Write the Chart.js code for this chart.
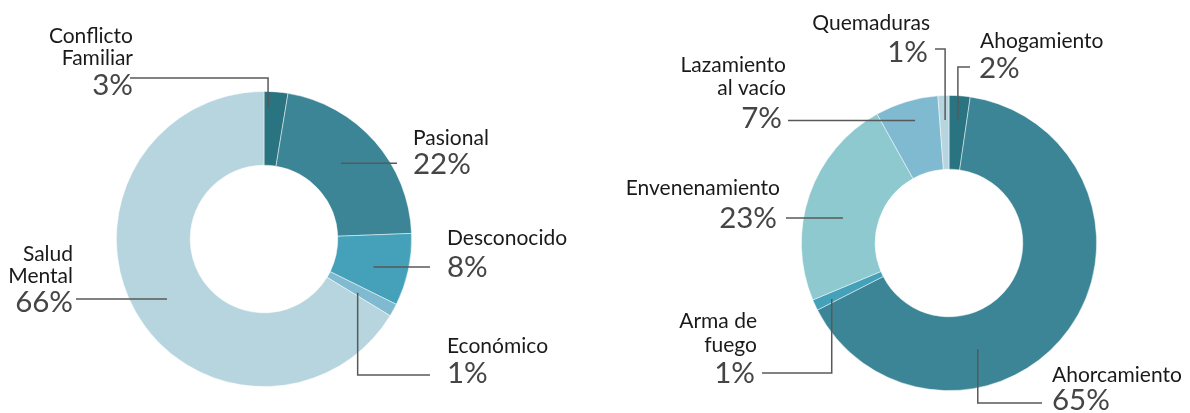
<!DOCTYPE html>
<html lang="es">
<head>
  <meta charset="UTF-8" />
  <title>Suicidios: motivo y método</title>
  <script src="https://cdn.jsdelivr.net/npm/chart.js"></script>
  <style>
    html, body { margin: 0; padding: 0; background: #fff; }
    #wrap { position: relative; width: 1190px; height: 413px; }
    .box { position: absolute; top: 0; width: 595px; height: 413px; }
  </style>
</head>
<body>
  <div id="wrap">
    <div class="box" style="left:0"><canvas id="motivo"></canvas></div>
    <div class="box" style="left:595px"><canvas id="metodo"></canvas></div>
  </div>

  <script>
    // left chart: motivo
    const motivoLabels = [['Conflicto', 'Familiar'], ['Pasional'], ['Desconocido'], ['Económico'], ['Salud', 'Mental']];
    const motivoValues = [2.6, 21.8, 7.9, 1.4, 66.3];
    const motivoColors = ['#2a7381', '#3b8597', '#45a1b9', '#7fbad0', '#b6d5df'];

    // right chart: metodo
    const metodoLabels = [['Ahogamiento'], ['Ahorcamiento'], ['Arma de', 'fuego'], ['Envenenamiento'], ['Lazamiento', 'al vacío'], ['Quemaduras']];
    const metodoValues = [2.3, 65.2, 1.2, 23.2, 6.9, 1.2];
    const metodoColors = ['#2a7381', '#3b8597', '#45a1b9', '#8ec9d0', '#7fbad0', '#b6d5df'];

    // label placement, offsets from the doughnut centre
    // frac/r: where the leader touches the slice; elbowY: vertical leg first; endX: leader end
    const motivoLayout = [
      { frac: 0.19, r: 131, align: 'right', x: -131, nameY: [-196, -174], pctX: -131, pctY: -144, elbowY: -161, endX: -134 },
      { frac: 0.46, r: 108, align: 'left', x: 149, nameY: [-94], pctX: 149, pctY: -65, elbowY: null, endX: 133 },
      { frac: 0.58, r: 113, align: 'left', x: 183, nameY: [6], pctX: 183, pctY: 38, elbowY: null, endX: 166 },
      { frac: 0.71, r: 108, align: 'left', x: 183, nameY: [114], pctX: 183, pctY: 144, elbowY: 136, endX: 166 },
      { frac: 0.49, r: 114, align: 'right', x: -191, nameY: [22, 44], pctX: -191, pctY: 73, elbowY: null, endX: -188 }
    ];
    const metodoLayout = [
      { frac: 0.5, r: 123, align: 'left', x: 31, nameY: [-195], pctX: 30, pctY: -165, elbowY: -176, endX: 21 },
      { frac: 0.667, r: 110, align: 'left', x: 103, nameY: [139], pctX: 103, pctY: 167, elbowY: 160, endX: 93 },
      { frac: 0.33, r: 130, align: 'right', x: -192, nameY: [85, 109], pctX: -194, pctY: 140, elbowY: 130, endX: -187 },
      { frac: 0.43, r: 109, align: 'right', x: -169, nameY: [-48], pctX: -172, pctY: -15, elbowY: null, endX: -163 },
      { frac: 0.55, r: 127, align: 'right', x: -163, nameY: [-171, -148], pctX: -167, pctY: -115, elbowY: null, endX: -161 },
      { frac: 0.58, r: 123, align: 'right', x: -19, nameY: [-213], pctX: -21, pctY: -181, elbowY: -194, endX: -14 }
    ];

    const calloutPlugin = {
      id: 'callouts',
      afterDraw(chart, args, opts) {
        const ctx = chart.ctx;
        const meta = chart.getDatasetMeta(0);
        const values = chart.data.datasets[0].data;
        const total = values.reduce((a, b) => a + b, 0);
        opts.layout.forEach((L, i) => {
          const arc = meta.data[i];
          const cx = arc.x, cy = arc.y;
          const ang = arc.startAngle + (arc.endAngle - arc.startAngle) * L.frac;
          const ax = cx + Math.cos(ang) * L.r;
          const ay = cy + Math.sin(ang) * L.r;

          ctx.save();
          ctx.strokeStyle = '#595959';
          ctx.lineWidth = 1.5;
          ctx.beginPath();
          ctx.moveTo(ax, ay);
          if (L.elbowY !== null) {
            ctx.lineTo(ax, cy + L.elbowY);
            ctx.lineTo(cx + L.endX, cy + L.elbowY);
          } else {
            ctx.lineTo(cx + L.endX, ay);
          }
          ctx.stroke();

          ctx.textAlign = L.align;
          ctx.textBaseline = 'alphabetic';
          ctx.fillStyle = '#1a1a1a';
          ctx.font = '21px Lato, "Open Sans", sans-serif';
          chart.data.labels[i].forEach((line, j) => {
            ctx.fillText(line, cx + L.x, cy + L.nameY[j]);
          });
          ctx.fillStyle = '#454545';
          ctx.font = '29.5px Lato, "Open Sans", sans-serif';
          ctx.fillText(Math.round(values[i] / total * 100) + '%', cx + L.pctX, cy + L.pctY);
          ctx.restore();
        });
      }
    };

    function makeDoughnut(id, labels, values, colors, layout, padding) {
      return new Chart(document.getElementById(id), {
        type: 'doughnut',
        data: {
          labels: labels,
          datasets: [{
            data: values,
            backgroundColor: colors,
            borderColor: 'rgba(255,255,255,0.6)',
            borderWidth: 0.8
          }]
        },
        options: {
          responsive: true,
          maintainAspectRatio: false,
          animation: false,
          cutout: '50%',
          layout: { padding: padding },
          plugins: {
            legend: { display: false },
            tooltip: { enabled: false },
            callouts: { layout: layout }
          }
        },
        plugins: [calloutPlugin]
      });
    }

    makeDoughnut('motivo', motivoLabels, motivoValues, motivoColors, motivoLayout,
      { left: 116, right: 183, top: 91, bottom: 26 });
    makeDoughnut('metodo', metodoLabels, metodoValues, metodoColors, metodoLayout,
      { left: 206, right: 93, top: 95, bottom: 22 });
  </script>
</body>
</html>
